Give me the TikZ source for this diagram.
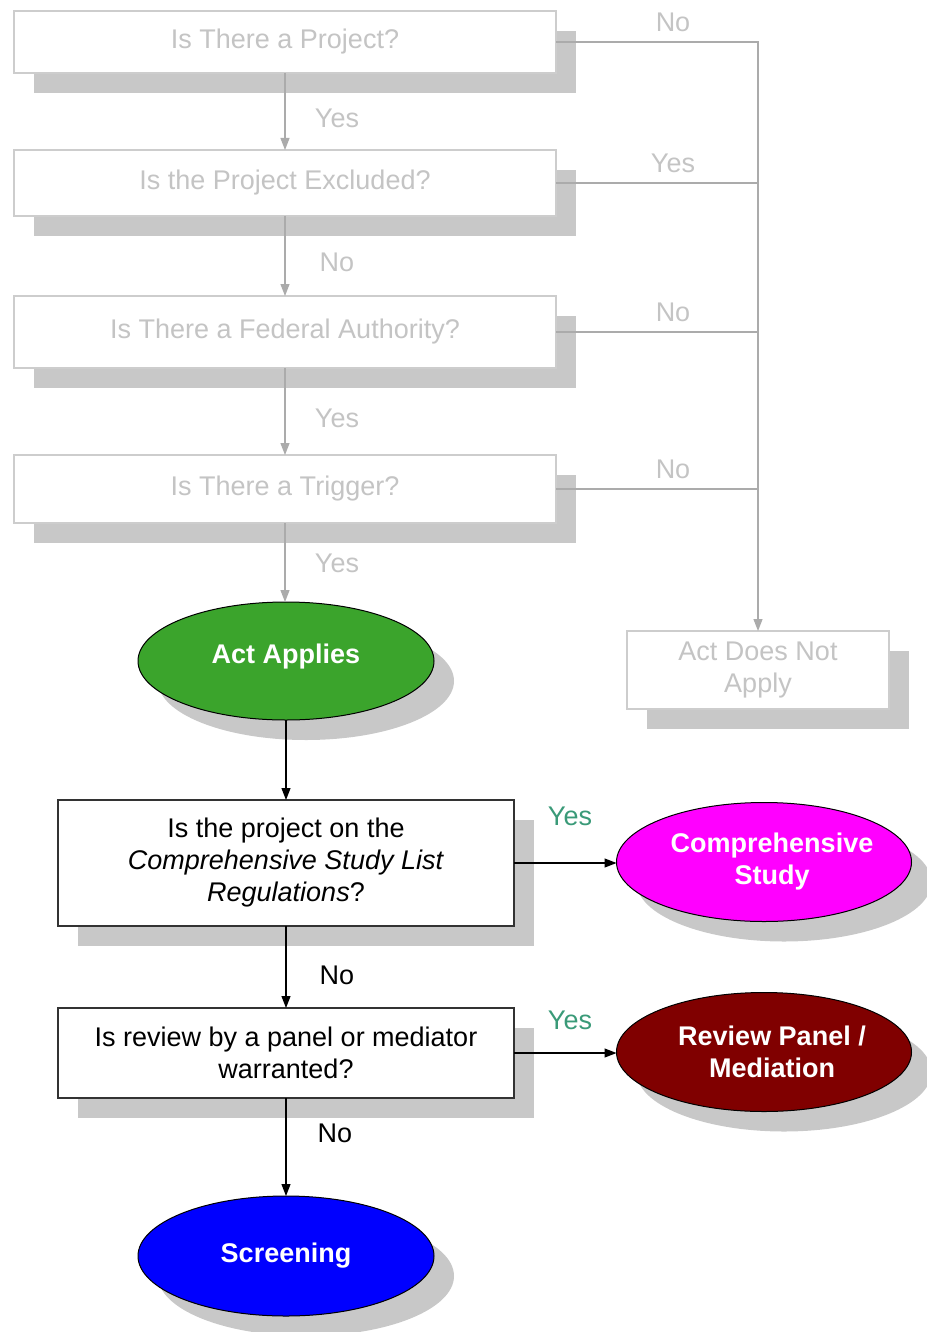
\documentclass[tikz,border=0pt]{standalone}
\usepackage{fontspec}
\setmainfont{Liberation Sans}
\usetikzlibrary{shapes.geometric,shadows,arrows.meta}
\definecolor{txtgray}{HTML}{C4C4C4}
\definecolor{bordgray}{HTML}{CDCDCD}
\definecolor{linegray}{HTML}{ABABAB}
\definecolor{shadgray}{HTML}{C8C8C8}
\definecolor{yesgreen}{HTML}{3A9A78}
\definecolor{actgreen}{HTML}{3BA42C}
\definecolor{csmagenta}{HTML}{FF00FF}
\definecolor{reviewred}{HTML}{800000}
\definecolor{scrblue}{HTML}{0000FF}
\tikzset{
  big/.style={font=\fontsize{27}{32}\selectfont},
  shad/.style={general shadow={shadow xshift=20pt,shadow yshift=-20pt,fill=shadgray}},
  graybox/.style={big,rectangle,draw=bordgray,line width=1.2pt,fill=white,text=txtgray,inner sep=0pt,outer sep=0pt,shad,align=center},
  blackbox/.style={big,rectangle,draw=black!80,line width=1.2pt,fill=white,text=black,inner sep=0pt,outer sep=0pt,shad,align=center},
  oval/.style={ellipse,draw=black,line width=1pt,inner sep=0pt,outer sep=0pt,shad},
  ovaltext/.style={text=white,font=\fontsize{27}{32}\selectfont\bfseries,align=center,inner sep=0pt},
  grayline/.style={draw=linegray,line width=1.2pt},
  grayarrow/.style={grayline,-{Triangle[width=9pt,length=12pt]}},
  blackarrow/.style={draw=black,line width=1.2pt,-{Triangle[width=9pt,length=12pt]}},
  glabel/.style={big,text=txtgray},
  klabel/.style={big,text=black},
  ylabel/.style={big,text=yesgreen},
}
\begin{document}
\begin{tikzpicture}[x=1pt,y=-1pt]
\useasboundingbox (0,0) rectangle (926,1332);
% top gray boxes
\node[graybox,minimum width=542pt,minimum height=62pt] (b1) at (285,42) {Is There a Project?};
\node[graybox,minimum width=542pt,minimum height=66pt] (b2) at (285,183) {Is the Project Excluded?};
\node[graybox,minimum width=542pt,minimum height=72pt] (b3) at (285,332) {Is There a Federal Authority?};
\node[graybox,minimum width=542pt,minimum height=68pt] (b4) at (285,489) {Is There a Trigger?};
\node[graybox,minimum width=262pt,minimum height=78pt] (adna) at (758,670) {Act Does Not\\Apply};
% ellipses
\node[oval,fill=actgreen,minimum width=296pt,minimum height=118pt] (act) at (286,661) {};
\node[ovaltext] (actt) at (286,657) {Act Applies};
\node[oval,fill=csmagenta,minimum width=295pt,minimum height=119pt] (cs) at (764,862) {};
\node[ovaltext] (cst) at (772,862) {Comprehensive\\Study};
\node[oval,fill=reviewred,minimum width=295pt,minimum height=119pt] (rp) at (764,1052) {};
\node[ovaltext] (rpt) at (772,1052) {Review Panel /\\Mediation};
\node[oval,fill=scrblue,minimum width=296pt,minimum height=120pt] (scr) at (286,1256) {};
\node[ovaltext] (scrt) at (286,1256) {Screening};
% black boxes
\node[blackbox,minimum width=456pt,minimum height=126pt] (b5) at (286,863) {Is the project on the\\\textit{Comprehensive Study List}\\\textit{Regulations}?};
\node[blackbox,minimum width=456pt,minimum height=90pt] (b6) at (286,1053) {Is review by a panel or mediator\\warranted?};
% junction
\coordinate (j1) at (758,42);
% gray connectors
\draw[grayarrow] (b1) -- (b2);
\draw[grayarrow] (b2) -- (b3);
\draw[grayarrow] (b3) -- (b4);
\draw[grayarrow] (b4.south) -- (b4.south |- act.north);
\draw[grayarrow] (b1.east) -- (j1) -- (adna.north);
\draw[grayline] (b2.east) -- (b2.east -| j1);
\draw[grayline] (b3.east) -- (b3.east -| j1);
\draw[grayline] (b4.east) -- (b4.east -| j1);
% black connectors
\draw[blackarrow] (act.south) -- (b5.north);
\draw[blackarrow] (b5.east) -- (b5.east -| cs.west);
\draw[blackarrow] (b5.south) -- (b6.north);
\draw[blackarrow] (b6.east) -- (b6.east -| rp.west);
\draw[blackarrow] (b6.south) -- (scr.north);
% labels
\node[glabel] (l1) at (337,118) {Yes};
\node[glabel] (l2) at (337,262) {No};
\node[glabel] (l3) at (337,418) {Yes};
\node[glabel] (l4) at (337,563) {Yes};
\node[glabel] (r1) at (673,22) {No};
\node[glabel] (r2) at (673,163) {Yes};
\node[glabel] (r3) at (673,312) {No};
\node[glabel] (r4) at (673,469) {No};
\node[ylabel] (y1) at (570,816) {Yes};
\node[ylabel] (y2) at (570,1020) {Yes};
\node[klabel] (n1) at (337,975) {No};
\node[klabel] (n2) at (335,1133) {No};
\end{tikzpicture}
\end{document}
